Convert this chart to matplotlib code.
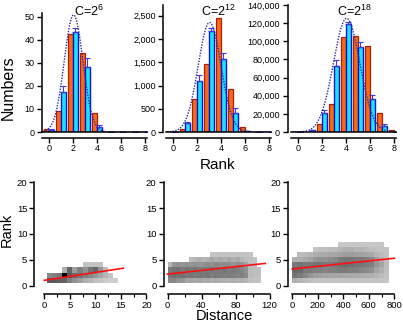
import matplotlib
matplotlib.use("Agg")
import matplotlib.pyplot as plt
import numpy as np

plt.rcParams['font.family'] = ['Liberation Sans', 'DejaVu Sans']
plt.rcParams['mathtext.fontset'] = 'custom'
plt.rcParams['mathtext.rm'] = 'Liberation Sans'

nan = np.nan

# ---- top row: rank histograms ----
ranks = [0, 1, 2, 3, 4, 5, 6, 7, 8]

c6_orange = [1.2, 9.1, 42.5, 34.2, 8.1, 0, 0, 0, 0]
c6_cyan = [1.0, 17.2, 43.6, 28.4, 2.0, 0, 0, 0, 0]
c6_cyan_err = [0.3, 3.0, 1.5, 3.6, 1.0, 0, 0, 0, 0]
c6_fit = (50.9, 2.05, 0.78)   # amplitude, mean, sigma

c12_orange = [0, 58, 711, 1466, 2450, 927, 115, 0, 0]
c12_cyan = [0, 187, 1106, 2162, 1567, 417, 20, 0, 0]
c12_cyan_err = [0, 30, 122, 72, 143, 93, 10, 0, 0]
c12_fit = (2357, 3.05, 0.95)

c18_orange = [0, 0, 8800, 30500, 105000, 105800, 95100, 20600, 2200]
c18_cyan = [0, 2200, 20600, 73100, 118700, 93400, 36000, 7000, 0]
c18_cyan_err = [0, 300, 3650, 6300, 2900, 5500, 4800, 2000, 0]
c18_fit = (125300, 4.05, 1.1)

titles = ['C=2$^{6}$', 'C=2$^{12}$', 'C=2$^{18}$']

# ---- bottom row: rank vs distance density (darkness 0..1, rows = rank 1..) ----
d1_edges = np.arange(0.5, 15.5, 1)
d1_grid = [
    [0.72, 0.72, 0.70, 0.68, 0.58, 0.52, 0.48, 0.42, 0.40, 0.36, 0.34, 0.32, 0.30, 0.30],
    [0.55, 0.58, 0.62, 1.00, 0.72, 0.66, 0.62, 0.58, 0.55, 0.50, 0.45, 0.40, 0.35, nan],
    [nan, nan, nan, 0.42, 0.68, 0.48, 0.58, 0.52, 0.62, 0.68, 0.50, 0.38, nan, nan],
    [nan, nan, nan, nan, nan, nan, nan, 0.35, 0.35, 0.35, 0.35, nan, nan, nan],
]
d2_edges = np.arange(0, 115, 5)
d2_grid = [
    [0.55, 0.55, 0.52, 0.50, 0.45, 0.45, 0.44, 0.45, 0.43, 0.44, 0.42, 0.43, 0.42, 0.42, 0.41, 0.42, 0.41, 0.42, 0.40, 0.36, 0.35, 0.35],
    [0.62, 0.64, 0.62, 0.63, 0.60, 0.62, 0.60, 0.61, 0.60, 0.62, 0.58, 0.60, 0.60, 0.58, 0.60, 0.58, 0.57, 0.58, 0.55, 0.38, 0.37, 0.36],
    [0.60, 0.62, 0.63, 0.60, 0.62, 0.60, 0.62, 0.60, 0.61, 0.60, 0.62, 0.60, 0.60, 0.62, 0.58, 0.60, 0.58, 0.57, 0.52, 0.38, 0.37, 0.36],
    [0.40, 0.50, 0.52, 0.50, 0.52, 0.50, 0.52, 0.50, 0.52, 0.54, 0.52, 0.55, 0.52, 0.54, 0.52, 0.50, 0.52, 0.50, 0.45, 0.38, 0.36, nan],
    [nan, nan, nan, nan, nan, 0.38, 0.40, 0.42, 0.40, 0.42, 0.45, 0.42, 0.44, 0.42, 0.45, 0.42, 0.44, 0.40, 0.38, 0.36, 0.35, nan],
    [nan, nan, nan, nan, nan, nan, nan, nan, nan, nan, 0.35, 0.35, 0.35, 0.35, 0.35, 0.35, 0.35, 0.35, 0.35, 0.35, nan, nan],
]
d3_edges = np.arange(0, 800, 40)
d3_grid = [
    [0.42, 0.40, 0.38, 0.36, 0.35, 0.35, 0.35, 0.35, 0.35, 0.35, 0.35, 0.35, 0.35, 0.35, 0.35, 0.35, 0.35, 0.34, 0.33],
    [0.62, 0.60, 0.55, 0.50, 0.48, 0.47, 0.46, 0.45, 0.45, 0.45, 0.44, 0.44, 0.44, 0.43, 0.42, 0.42, 0.40, 0.38, 0.35],
    [0.66, 0.65, 0.60, 0.60, 0.58, 0.58, 0.57, 0.58, 0.58, 0.60, 0.60, 0.58, 0.58, 0.56, 0.55, 0.52, 0.45, 0.42, 0.36],
    [0.60, 0.62, 0.60, 0.60, 0.62, 0.62, 0.60, 0.60, 0.62, 0.64, 0.65, 0.64, 0.62, 0.62, 0.60, 0.58, 0.50, 0.45, 0.37],
    [0.42, 0.42, 0.44, 0.46, 0.50, 0.52, 0.52, 0.54, 0.55, 0.60, 0.62, 0.62, 0.60, 0.60, 0.58, 0.55, 0.48, 0.42, 0.36],
    [nan, 0.38, 0.38, 0.40, 0.42, 0.44, 0.44, 0.45, 0.45, 0.46, 0.48, 0.48, 0.47, 0.46, 0.45, 0.44, 0.40, 0.38, 0.35],
    [nan, nan, nan, nan, 0.35, 0.36, 0.37, 0.38, 0.38, 0.40, 0.42, 0.42, 0.40, 0.40, 0.38, 0.37, 0.36, 0.35, 0.34],
    [nan, nan, nan, nan, nan, nan, nan, nan, nan, 0.33, 0.33, 0.33, 0.33, 0.33, 0.33, 0.33, 0.33, 0.33, nan],
]
# linear fits: intercept, slope, x end
fits = [(1.0, 0.152, 15.5), (2.2, 0.0181, 115), (3.2, 0.0026, 800)]

W, H = 403, 324


def box(left, top, w, h):
    return [left / W, 1 - (top + h) / H, w / W, h / H]


fig = plt.figure(figsize=(W / 100, H / 100), dpi=100)

ORANGE, ORANGE_E = '#f76a1a', '#a82008'
CYAN, CYAN_E = '#1fe2ff', '#0a14d8'
PT = 72 / 100.0  # points per pixel

top_lefts = [42.4, 166.4, 291.4]
top_ylims = [55.2, 2732, 140000]
top_spine_top = [51.7, 2732, 140000]
top_yticks = [np.arange(0, 51, 10), np.arange(0, 2501, 500), np.arange(0, 140001, 20000)]
top_ylabels = [None, lambda v: f'{int(v):,}', lambda v: f'{int(v):,}']
y_off = [0, 3, 3.7]
data = [(c6_orange, c6_cyan, c6_cyan_err, c6_fit),
        (c12_orange, c12_cyan, c12_cyan_err, c12_fit),
        (c18_orange, c18_cyan, c18_cyan_err, c18_fit)]
title_x = [89, 218, 354]

for i in range(3):
    ax = fig.add_axes(box(top_lefts[i], 5, 105, 127))
    orange, cyan, err, fit = data[i]
    x = np.array(ranks)
    ax.bar(x - 0.2, orange, 0.4, color=ORANGE, edgecolor=ORANGE_E, linewidth=0.9, zorder=2)
    ax.bar(x + 0.2, cyan, 0.4, color=CYAN, edgecolor=CYAN_E, linewidth=1.0, zorder=2)
    ax.errorbar(x + 0.2, cyan, yerr=[np.zeros(len(err)), err], fmt='none',
                ecolor='#3a3ad8', elinewidth=0.8, capsize=2, capthick=0.8, zorder=3)
    xs = np.linspace(-0.5, 8.2, 300)
    a, m, s = fit
    ax.plot(xs, a * np.exp(-(xs - m) ** 2 / (2 * s ** 2)), color='#2a2aa8',
            linestyle=(0, (1, 1)), lw=1.0, zorder=4)
    ax.axhline(0, color='k', lw=1.1, zorder=5, clip_on=False)
    ax.set_xlim(-0.55, 8.2)
    ax.set_ylim(0, top_ylims[i])
    ax.set_xticks([0, 2, 4, 6, 8])
    ax.set_yticks(top_yticks[i])
    if top_ylabels[i]:
        ax.set_yticklabels([top_ylabels[i](v) for v in top_yticks[i]])
    for sp in ['top', 'right']:
        ax.spines[sp].set_visible(False)
    ax.spines['left'].set_bounds(0, top_spine_top[i])
    ax.spines['left'].set_position(('outward', y_off[i] * PT))
    ax.spines['bottom'].set_position(('outward', 6 * PT))
    for sp in ['left', 'bottom']:
        ax.spines[sp].set_linewidth(1.1)
    ax.tick_params(axis='both', direction='out', length=3.5, width=1.0, labelsize=6.5)
    ax.tick_params(axis='x', pad=1)
    ax.tick_params(axis='y', pad=2)
    fig.text(title_x[i] / W, 1 - 11 / H, titles[i], ha='center', va='center', fontsize=9)

fig.text(8 / W, 1 - 88 / H, 'Numbers', rotation=90, ha='center', va='center', fontsize=11.5)
fig.text(218 / W, 1 - 169 / H, 'Rank', ha='center', va='baseline', fontsize=11)

bot_lefts = [44.3, 167.5, 292.3]
bot_xlims = [20, 120, 800]
bot_xticks = [[0, 5, 10, 15, 20], [0, 40, 80, 120], [0, 200, 400, 600, 800]]
bot_minor = [[2.5, 7.5, 12.5, 17.5], [20, 60, 100], [100, 300, 500, 700]]
bot_yoff = [10, 4, 4.6]
grids = [(d1_edges, d1_grid), (d2_edges, d2_grid), (d3_edges, d3_grid)]

for i in range(3):
    ax = fig.add_axes(box(bot_lefts[i], 182.3, 102, 103.2))
    edges, grid = grids[i]
    g = np.array(grid, dtype=float)
    r_edges = np.arange(0.5, g.shape[0] + 1, 1)
    ax.pcolormesh(edges, r_edges, np.ma.masked_invalid(g), cmap='Greys',
                  vmin=0, vmax=1, shading='flat', zorder=1)
    b0, k, xend = fits[i]
    xl = np.array([0, xend])
    ax.plot(xl, b0 + k * xl, color='#ff1010', lw=1.2, zorder=3, clip_on=False)
    ax.set_xlim(0, bot_xlims[i])
    ax.set_ylim(0, 20)
    ax.set_xticks(bot_xticks[i])
    ax.set_xticks(bot_minor[i], minor=True)
    ax.set_yticks([0, 5, 10, 15, 20])
    for sp in ['top', 'right']:
        ax.spines[sp].set_visible(False)
    ax.spines['left'].set_position(('outward', bot_yoff[i] * PT))
    ax.spines['bottom'].set_position(('outward', 8 * PT))
    for sp in ['left', 'bottom']:
        ax.spines[sp].set_linewidth(1.1)
    ax.tick_params(axis='both', direction='out', length=3.5, width=1.0, labelsize=6.8)
    ax.tick_params(axis='x', which='minor', direction='out', length=2, width=0.8)
    ax.tick_params(axis='x', pad=2)
    ax.tick_params(axis='y', pad=1.5)

fig.text(7 / W, 1 - 230 / H, 'Rank', rotation=90, ha='center', va='center', fontsize=10.5)
fig.text(224 / W, 1 - 320 / H, 'Distance', ha='center', va='baseline', fontsize=10.5)

fig.savefig('out.png', dpi=100)
